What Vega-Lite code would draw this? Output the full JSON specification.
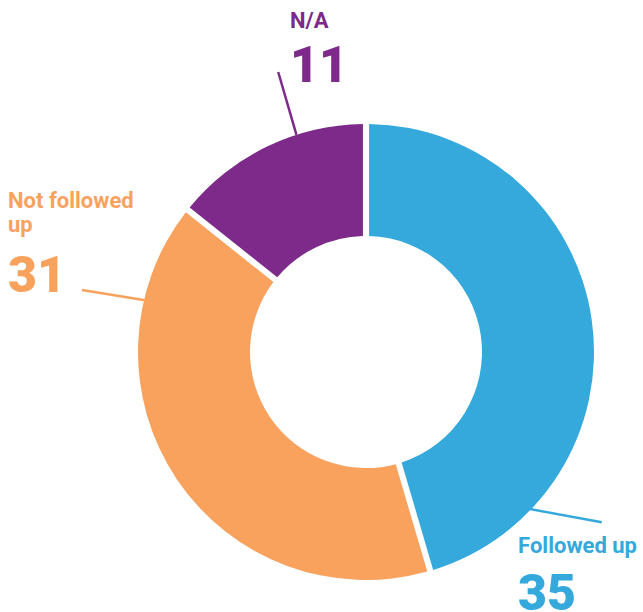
{
  "$schema": "https://vega.github.io/schema/vega-lite/v6.json",
  "width": 456,
  "height": 456,
  "autosize": "none",
  "padding": {"left": 138, "top": 124, "right": 49, "bottom": 32},
  "background": "white",
  "config": {"view": {"stroke": null}, "font": "Roboto"},
  "layer": [
    {
      "data": {"values": [
        {"category": "Followed up", "count": 35},
        {"category": "Not followed up", "count": 31},
        {"category": "N/A", "count": 11}
      ]},
      "mark": {"type": "arc", "radius": 228, "radius2": 116, "padAngle": 0.024},
      "encoding": {
        "theta": {"field": "count", "type": "quantitative", "stack": true},
        "order": {"field": "count", "type": "quantitative", "sort": "descending"},
        "color": {
          "field": "category", "type": "nominal",
          "scale": {"domain": ["Followed up", "Not followed up", "N/A"], "range": ["#35a8dc", "#f8a25e", "#7d2a8a"]},
          "legend": null
        }
      }
    },
    {
      "data": {"values": [
        {"category": "N/A", "x": -0.385, "y": 1.228, "x2": -0.305, "y2": 0.952},
        {"category": "Not followed up", "x": -1.246, "y": 0.272, "x2": -0.969, "y2": 0.227},
        {"category": "Followed up", "x": 0.719, "y": -0.689, "x2": 1.034, "y2": -0.747}
      ]},
      "mark": {"type": "rule", "strokeWidth": 2.5},
      "encoding": {
        "x": {"field": "x", "type": "quantitative", "scale": {"domain": [-1, 1], "nice": false, "zero": false}, "axis": null},
        "y": {"field": "y", "type": "quantitative", "scale": {"domain": [-1, 1], "nice": false, "zero": false}, "axis": null},
        "x2": {"field": "x2"},
        "y2": {"field": "y2"},
        "color": {"field": "category", "type": "nominal", "legend": null}
      }
    },
    {
      "data": {"values": [
        {"category": "N/A", "text": "N/A", "x": -0.333, "y": 1.420},
        {"category": "Not followed up", "text": "Not followed\nup", "x": -1.570, "y": 0.630},
        {"category": "Followed up", "text": "Followed up", "x": 0.667, "y": -0.883}
      ]},
      "mark": {"type": "text", "align": "left", "baseline": "alphabetic", "fontSize": 22, "fontWeight": "bold", "lineBreak": "\n", "lineHeight": 24},
      "encoding": {
        "x": {"field": "x", "type": "quantitative", "axis": null},
        "y": {"field": "y", "type": "quantitative", "axis": null},
        "text": {"field": "text"},
        "color": {"field": "category", "type": "nominal", "legend": null}
      }
    },
    {
      "data": {"values": [
        {"category": "N/A", "text": "11", "x": -0.333, "y": 1.185},
        {"category": "Not followed up", "text": "31", "x": -1.570, "y": 0.265},
        {"category": "Followed up", "text": "35", "x": 0.667, "y": -1.132}
      ]},
      "mark": {"type": "text", "align": "left", "baseline": "alphabetic", "fontSize": 50, "fontWeight": 900},
      "encoding": {
        "x": {"field": "x", "type": "quantitative", "axis": null},
        "y": {"field": "y", "type": "quantitative", "axis": null},
        "text": {"field": "text"},
        "color": {"field": "category", "type": "nominal", "legend": null}
      }
    }
  ]
}
